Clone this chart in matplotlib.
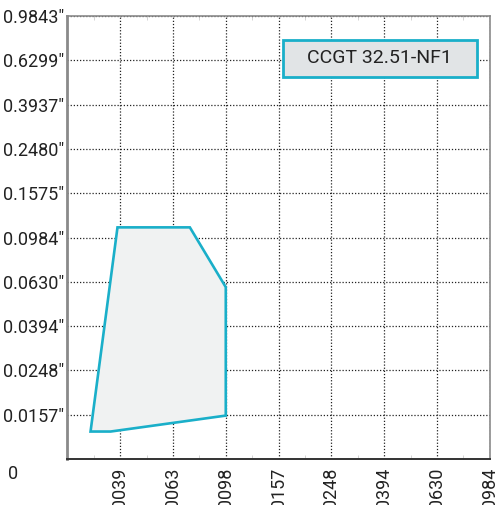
import matplotlib.pyplot as plt
import numpy as np
from matplotlib.patches import Rectangle
from matplotlib.ticker import MultipleLocator

# tick labels (sizes in inches, evenly spaced steps)
x_labels = ["0.0039", "0.0063", "0.0098", "0.0157", "0.0248", "0.0394", "0.0630", "0.0984"]
y_labels = ["0.0157″", "0.0248″", "0.0394″", "0.0630″", "0.0984″",
            "0.1575″", "0.2480″", "0.3937″", "0.6299″", "0.9843″"]

# working envelope, in step units of the two axes
env_x = [0.44, 0.82, 3.0, 3.0, 2.32, 0.95]
env_y = [0.62, 0.62, 0.98, 3.88, 5.23, 5.23]

series_name = "CCGT 32.51-NF1"
teal = "#1aafc9"
ink = "#222222"

plt.rcParams["font.family"] = ["Roboto", "DejaVu Sans"]

fig = plt.figure(figsize=(4.96, 5.05), dpi=100)
ax = fig.add_axes([0.1357, 0.0911, 0.852, 0.877])

ax.fill(env_x, env_y, facecolor="#f0f2f2", edgecolor=teal, linewidth=1.9, zorder=3)

ax.set_xlim(0, len(x_labels))
ax.set_ylim(0, len(y_labels))
ax.set_xticks(np.arange(1, len(x_labels) + 1))
ax.set_yticks(np.arange(1, len(y_labels) + 1))
ax.set_xticklabels(x_labels, rotation=90, fontsize=13, color=ink)
ax.set_yticklabels(y_labels, fontsize=13, color=ink)
ax.xaxis.set_minor_locator(MultipleLocator(0.5))
ax.tick_params(axis="x", which="major", length=0, pad=6)
ax.tick_params(axis="y", which="major", length=0, pad=2)
ax.tick_params(axis="x", which="minor", length=3, direction="in", color="#cccccc",
               top=True)
ax.tick_params(axis="y", which="minor", length=0)

ax.grid(True, which="major", linestyle=(0, (1, 1.5)), color=ink, linewidth=0.9)
ax.set_axisbelow(True)

for side in ["left", "top", "right"]:
    ax.spines[side].set_color("#8a8a8a")
ax.spines["left"].set_linewidth(2.0)
ax.spines["top"].set_linewidth(1.2)
ax.spines["right"].set_linewidth(1.2)
ax.spines["bottom"].set_color("#333333")
ax.spines["bottom"].set_linewidth(1.4)

# origin label in the corner
fig.text(8 / 496, 1 - 474 / 505, "0", fontsize=13, color=ink, ha="left", va="center")

# series label box
ax.add_patch(Rectangle((0.51, 0.862), 0.459, 0.085, transform=ax.transAxes,
                       facecolor="#e1e4e6", edgecolor=teal, linewidth=2.0, zorder=5))
ax.text(0.7395, 0.9045, series_name, transform=ax.transAxes, fontsize=14,
        color=ink, ha="center", va="center", zorder=6)

fig.savefig("out.png", dpi=100)
